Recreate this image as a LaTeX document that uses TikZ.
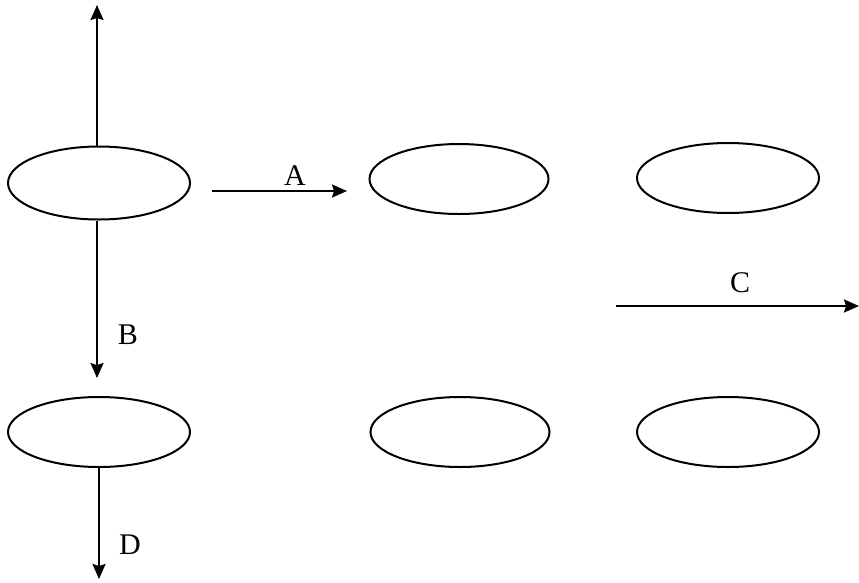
\documentclass[tikz,border=0pt]{standalone}
\usepackage{fontspec}
\setmainfont{Liberation Serif}
\usetikzlibrary{shapes.geometric,arrows.meta}
\begin{document}
\begin{tikzpicture}[x=1pt,y=-1pt,
  cell/.style={draw,ellipse,line width=2pt,inner sep=0pt,minimum width=182pt,minimum height=70pt},
  link/.style={line width=2pt,-{Stealth[length=15pt,width=13pt,inset=2pt]}},
  lbl/.style={font=\fontsize{30pt}{32pt}\selectfont,inner sep=0pt}]
\useasboundingbox (0,0) rectangle (859,582);
\node[cell,minimum height=73pt] (e1) at (99,183) {};
\node[cell,minimum width=179pt] (e2) at (459,179) {};
\node[cell] (e3) at (728,178) {};
\node[cell] (e4) at (99,432) {};
\node[cell,minimum width=179pt] (e5) at (460,432) {};
\node[cell] (e6) at (728,432) {};
\coordinate (top) at (97,5);
\coordinate (bEnd) at (97,378);
\coordinate (dEnd) at (99,579);
\coordinate (aStart) at (212,191);
\coordinate (aEnd) at (347,191);
\coordinate (cStart) at (616,306);
\coordinate (cEnd) at (859,306);
\draw[link] (e1.north -| top) -- (top);
\draw[link] (e1.south -| bEnd) -- (bEnd);
\draw[link] (e4.south) -- (dEnd);
\draw[link] (aStart) -- (aEnd);
\draw[link] (cStart) -- (cEnd);
\node[lbl] (la) at (295,176) {A};
\node[lbl] (lb) at (128,335) {B};
\node[lbl] (lc) at (740,283) {C};
\node[lbl] (ld) at (130,545) {D};
\end{tikzpicture}
\end{document}
